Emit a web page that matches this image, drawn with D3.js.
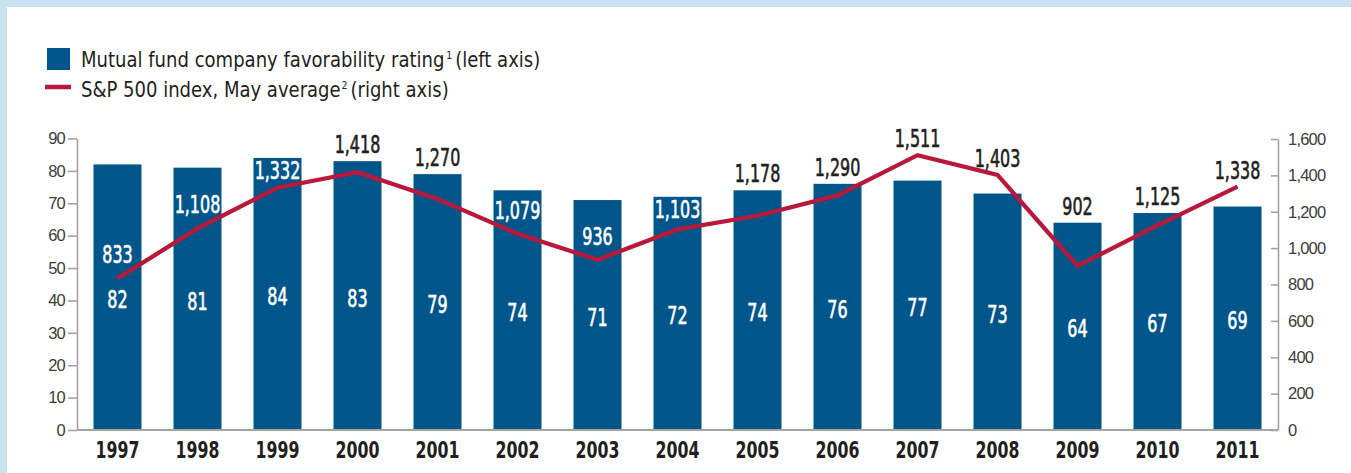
<!DOCTYPE html>
<html>
<head>
<meta charset="utf-8">
<script src="https://cdn.jsdelivr.net/npm/d3@7"></script>
<style>
	body { margin: 0; background: #c8e3ef; }
	svg { display: block; font-family: 'DejaVu Sans Condensed', 'Liberation Sans Narrow', Roboto, sans-serif; }
</style>
</head>
<body>
<div id="chart-area"></div>
<script>

//**************** Data *****************//

const years = ['1997', '1998', '1999', '2000', '2001', '2002', '2003', '2004',
	'2005', '2006', '2007', '2008', '2009', '2010', '2011'];
const favorability = [82, 81, 84, 83, 79, 74, 71, 72, 74, 76, 77, 73, 64, 67, 69];
const sp500 = [833, 1108, 1332, 1418, 1270, 1079, 936, 1103, 1178, 1290, 1511, 1403, 902, 1125, 1338];
const leftTicks = [0, 10, 20, 30, 40, 50, 60, 70, 80, 90];
const rightTicks = [0, 200, 400, 600, 800, 1000, 1200, 1400, 1600];
// S&P labels that sit inside the bar in white
const insideLabelYears = ['1997', '1998', '1999', '2002', '2003', '2004'];

const data = years.map((y, i) => ({ year: y, fav: favorability[i], sp: sp500[i] }));

//************* Canvas Set Up *************//

const W = 1351, H = 473;
const blue = '#00568b', red = '#b8193a', ink = '#231f20';
const squeeze = 0.74; // the source font is a condensed face

let svg = d3.select('#chart-area').append('svg')
	.attr('width', W)
	.attr('height', H);

// white panel inside the light blue frame
svg.append('rect')
	.attr('x', 7).attr('y', 7)
	.attr('width', W - 7).attr('height', H - 7)
	.attr('fill', '#fff');

// scales
let x = d3.scaleBand()
	.domain(years)
	.range([77, 1278])
	.paddingInner(0.4)
	.paddingOuter(0.206);

let yL = d3.scaleLinear().domain([0, 90]).range([430, 138.5]);
let yR = d3.scaleLinear().domain([0, 1600]).range([430, 139]);

// left axis
let leftAxis = svg.append('g')
	.attr('transform', 'translate(77,0)')
	.call(d3.axisLeft(yL).tickValues(leftTicks).tickSize(9).tickSizeOuter(0).tickPadding(3));

// right axis, ticks pointing in
let rightAxis = svg.append('g')
	.attr('transform', 'translate(1278,0)')
	.call(d3.axisRight(yR).tickValues(rightTicks).tickSize(-7).tickSizeOuter(0).tickPadding(10)
		.tickFormat(d3.format(',')));

[leftAxis, rightAxis].forEach(a => {
	a.selectAll('path, line').attr('stroke', '#a3a3a3').attr('stroke-width', 1.6);
	a.selectAll('text')
		.attr('font-size', '16.5px')
		.attr('letter-spacing', '-0.8px')
		.attr('fill', '#3c3c3c')
		.attr('font-family', null);
});

// bars
svg.selectAll('rect.bar')
	.data(data)
	.enter()
	.append('rect')
		.attr('class', 'bar')
		.attr('x', d => x(d.year))
		.attr('y', d => yL(d.fav))
		.attr('width', x.bandwidth())
		.attr('height', d => yL(0) - yL(d.fav))
		.attr('fill', blue);

// baseline
svg.append('line')
	.attr('x1', 77).attr('x2', 1278)
	.attr('y1', yL(0)).attr('y2', yL(0))
	.attr('stroke', '#a3a3a3')
	.attr('stroke-width', 2);

// S&P line
let cx = d => x(d.year) + x.bandwidth() / 2;
svg.append('path')
	.datum(data)
	.attr('fill', 'none')
	.attr('stroke', red)
	.attr('stroke-width', 4.3)
	.attr('stroke-linejoin', 'miter')
	.attr('d', d3.line().x(cx).y(d => yR(d.sp)));

let place = (px, py, s) => 'translate(' + px + ',' + py + ') scale(' + s + ',1)';

// bar value labels
svg.selectAll('text.fav')
	.data(data)
	.enter()
	.append('text')
		.attr('class', 'fav')
		.attr('transform', d => place(cx(d), (yL(d.fav) + yL(0)) / 2 + 11, squeeze))
		.attr('text-anchor', 'middle')
		.attr('font-size', '24px')
		.attr('fill', '#fff')
		.attr('stroke', '#fff')
		.attr('stroke-width', 0.6)
		.text(d => d.fav);

// S&P value labels
svg.selectAll('text.sp')
	.data(data)
	.enter()
	.append('text')
		.attr('class', 'sp')
		.attr('transform', d => {
			let top = yL(d.fav), py = yR(d.sp);
			let ty = insideLabelYears.includes(d.year) ? Math.max(py - 15, top + 21) : Math.min(top, py) - 8;
			return place(cx(d), ty, squeeze);
		})
		.attr('text-anchor', 'middle')
		.attr('font-size', '24px')
		.attr('fill', d => insideLabelYears.includes(d.year) ? '#fff' : ink)
		.attr('stroke', d => insideLabelYears.includes(d.year) ? '#fff' : ink)
		.attr('stroke-width', 0.6)
		.text(d => d3.format(',')(d.sp));

// year labels
svg.selectAll('text.year')
	.data(data)
	.enter()
	.append('text')
		.attr('class', 'year')
		.attr('transform', d => place(cx(d), 458, 0.78))
		.attr('text-anchor', 'middle')
		.attr('font-size', '22.5px')
		.attr('font-weight', 700)
		.attr('fill', ink)
		.text(d => d.year);

// legend
let legend = svg.append('g').attr('font-size', '21px').attr('fill', ink);

legend.append('rect')
	.attr('x', 47).attr('y', 48)
	.attr('width', 23).attr('height', 22)
	.attr('fill', blue);

let t1 = legend.append('text');
t1.append('tspan').text('Mutual fund company favorability rating');
t1.append('tspan').attr('font-size', '11px').attr('dx', 2).attr('dy', -8).text('1');
t1.append('tspan').attr('dx', 3).attr('dy', 8).text('(left axis)');

legend.append('line')
	.attr('x1', 45).attr('x2', 71)
	.attr('y1', 87).attr('y2', 87)
	.attr('stroke', red)
	.attr('stroke-width', 4.5);

let t2 = legend.append('text');
t2.append('tspan').text('S&P 500 index, May average');
t2.append('tspan').attr('font-size', '11px').attr('dx', 1).attr('dy', -8).text('2');
t2.append('tspan').attr('dx', 3).attr('dy', 8).text('(right axis)');

// fit legend lines to the widths of the source
[[t1, 67, 455], [t2, 97, 364]].forEach(([t, ty, w]) => {
	let s = w / t.node().getComputedTextLength();
	t.attr('transform', place(81, ty, s));
});

</script>
</body>
</html>
